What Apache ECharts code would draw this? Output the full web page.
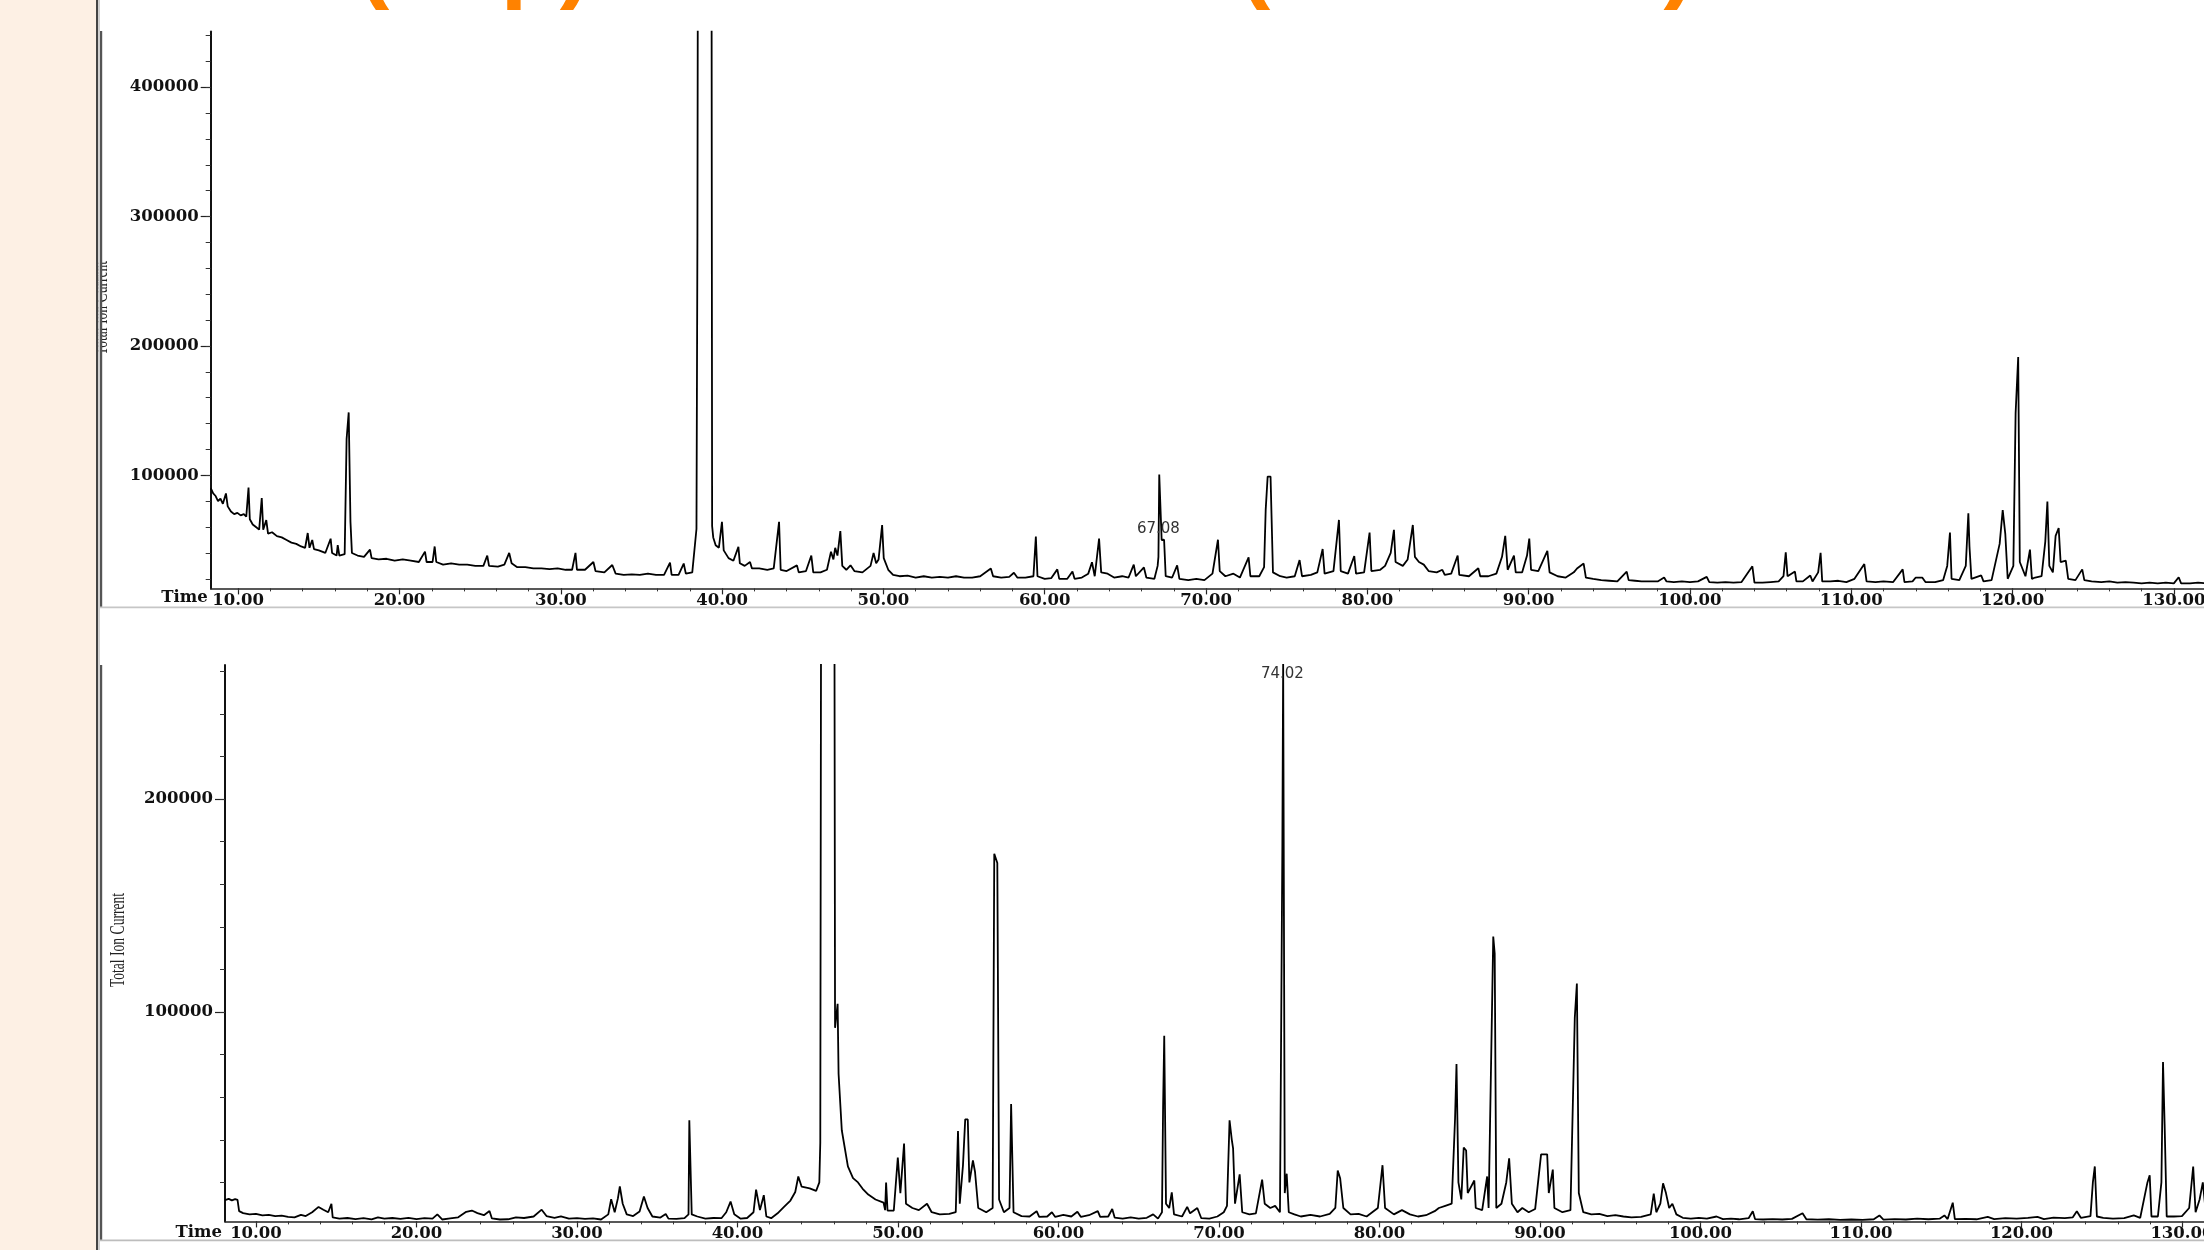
<!DOCTYPE html>
<html>
<head>
<meta charset="utf-8">
<script src="https://cdn.jsdelivr.net/npm/echarts@6/dist/echarts.min.js"></script>
<style>
html,body{margin:0;padding:0;background:#fff;}
#c{width:2204px;height:1250px;}
</style>
</head>
<body>
<div id="c"></div>
<script>
// ---- DATA (time in min, abundance in thousands of counts) ----
const topTrace = [[8.3,90],[8.45,86],[8.6,84],[8.75,80],[8.9,82],[9.05,78],[9.24,86],[9.35,76],[9.55,72],[9.75,70],[9.95,71],[10.15,69],[10.35,70],[10.5,68],[10.64,90.5],[10.72,66],[10.9,62],[11.1,60],[11.3,58],[11.46,82.4],[11.55,58],[11.74,65.4],[11.85,55],[12.1,56],[12.4,53],[12.7,52],[13.0,50],[13.3,48],[13.6,47],[13.9,45],[14.15,44],[14.31,55.4],[14.42,44],[14.59,50],[14.7,43],[15.0,42],[15.4,40],[15.73,51],[15.82,40],[16.1,38],[16.17,46],[16.27,38],[16.6,39],[16.72,128],[16.8,128],[16.85,148.6],[16.92,148.6],[16.96,64],[17.05,40],[17.4,38],[17.8,37],[18.17,42.6],[18.27,36],[18.7,35],[19.2,35.5],[19.7,34],[20.2,35],[20.7,34],[21.2,33],[21.58,41],[21.68,33],[22.05,33],[22.18,45],[22.28,33],[22.7,31],[23.2,32],[23.7,31],[24.2,31],[24.7,30],[25.2,30],[25.44,38],[25.55,30],[26.1,29.5],[26.5,31],[26.8,40],[26.95,32],[27.3,29],[27.8,29],[28.3,28],[28.8,28],[29.3,27.5],[29.8,28],[30.3,27],[30.7,27],[30.91,40],[31.0,27],[31.5,27],[32.02,33],[32.15,26],[32.7,25],[33.19,30.7],[33.4,24],[33.9,23],[34.4,23.5],[34.9,23],[35.4,24],[35.9,23],[36.4,23],[36.77,32.5],[36.87,23],[37.3,23],[37.62,31.8],[37.75,24],[38.15,25],[38.41,58.5],[38.47,286],[38.52,700],[39.33,700],[39.38,60.8],[39.45,52],[39.6,46],[39.8,44],[39.99,64],[40.1,42],[40.4,36],[40.7,34],[41.01,44.7],[41.1,32],[41.4,30],[41.73,33],[41.85,28],[42.3,28],[42.8,27],[43.2,28],[43.53,64],[43.63,27],[44.0,26],[44.64,30.4],[44.75,25],[45.2,26],[45.53,38],[45.65,25],[46.1,25],[46.5,27],[46.75,41],[46.9,35],[47.01,44],[47.15,38],[47.33,56.9],[47.45,30],[47.7,27],[47.96,30.4],[48.2,26],[48.7,25],[49.2,30],[49.39,40],[49.55,32],[49.7,35],[49.92,61.5],[50.02,36],[50.3,27],[50.6,23],[51.0,22],[51.5,22.5],[52.0,21],[52.5,22],[53.0,21],[53.5,21.5],[54.0,21],[54.5,22],[55.0,21],[55.5,21],[56.0,22],[56.66,27.9],[56.8,22],[57.3,21],[57.8,21.5],[58.09,24.7],[58.3,21],[58.8,21],[59.3,22],[59.45,52.6],[59.55,22],[60.0,20],[60.4,20.5],[60.78,27.3],[60.9,20],[61.4,20],[61.72,25.6],[61.85,20],[62.3,21],[62.7,24],[62.93,32.8],[63.1,22],[63.37,51.1],[63.5,25],[63.9,24],[64.3,21],[64.8,22],[65.2,21],[65.52,31],[65.65,22],[66.15,28.8],[66.3,21],[66.8,20],[67.0,30],[67.05,37],[67.1,100.6],[67.2,100.6],[67.25,50],[67.4,50.2],[67.5,22],[67.9,21],[68.21,30.4],[68.35,20],[68.9,19],[69.4,20],[69.9,19],[70.4,24],[70.74,50.2],[70.85,26],[71.2,22],[71.7,24],[72.1,21],[72.64,36.6],[72.75,22],[73.3,22],[73.6,29],[73.7,73.7],[73.82,99],[74.0,99],[74.15,25],[74.6,22],[75.0,21],[75.5,22],[75.8,34.5],[75.95,22],[76.5,23],[76.9,25],[77.23,43],[77.35,24],[77.9,26],[78.24,65.5],[78.35,26],[78.8,24],[79.19,37.6],[79.3,24],[79.8,25],[80.14,55.7],[80.25,26],[80.8,27],[81.1,30],[81.45,40],[81.65,57.8],[81.75,33],[82.2,30],[82.5,35],[82.82,61.6],[82.95,37],[83.2,33],[83.5,31],[83.8,26],[84.3,25],[84.65,27],[84.8,23],[85.2,24],[85.6,38],[85.7,23],[86.3,22],[86.88,28.2],[87.0,22],[87.5,22],[88.0,24],[88.35,37],[88.55,53.2],[88.7,27],[89.09,38],[89.2,25],[89.6,25],[89.9,38],[90.04,51.1],[90.15,27],[90.6,26],[91.16,41.6],[91.3,25],[91.8,22],[92.3,21],[92.8,25],[93.0,28],[93.41,31.8],[93.55,21],[94.0,20],[94.5,19],[95.0,18.5],[95.5,18],[96.08,25.6],[96.2,19],[96.6,18.5],[97.0,18],[97.5,18],[98.0,18],[98.4,21],[98.55,18],[99.0,17.5],[99.5,18],[100.0,17.5],[100.5,18],[101.04,21.5],[101.2,17.5],[101.7,17],[102.2,17.5],[102.7,17],[103.2,17.5],[103.87,29.7],[104.0,17],[104.5,17],[105.0,17.5],[105.5,18],[105.8,22],[105.94,40.4],[106.05,22],[106.51,25.6],[106.6,18],[107.0,18],[107.46,22.6],[107.6,18],[107.95,25],[108.1,40.1],[108.2,18],[108.7,18],[109.2,18.5],[109.7,17.5],[110.2,20],[110.81,31.4],[110.95,18],[111.5,17.5],[112.0,18],[112.6,17.5],[113.19,27.3],[113.3,17.5],[113.8,18],[114.0,21],[114.4,21],[114.6,17.5],[115.2,17.5],[115.7,19],[115.95,30],[116.12,55.7],[116.22,20],[116.7,19],[117.1,30],[117.26,70.6],[117.33,45],[117.45,20],[118.06,22.6],[118.2,18],[118.7,19],[119.2,47],[119.39,73.1],[119.55,54.8],[119.7,20],[120.05,30],[120.19,148],[120.35,191.4],[120.45,33],[120.8,22],[121.08,42.6],[121.2,20],[121.4,21],[121.8,22],[122.03,48.7],[122.16,79.8],[122.28,30],[122.5,25],[122.67,53.2],[122.86,59.3],[122.98,33],[123.3,34],[123.45,20],[123.9,19],[124.32,27.3],[124.45,19],[124.9,18],[125.5,17.5],[126.0,18],[126.5,17],[127.0,17.5],[127.5,17],[128.0,16.5],[128.5,17],[129.0,16.5],[129.5,17],[130.0,16.5],[130.3,21.2],[130.45,16.5],[131.0,16.5],[131.5,17],[132.0,16.5],[133.0,16.5]];

const botTrace = [[8.07,11.7],[8.3,12.3],[8.5,11.6],[8.7,12.2],[8.85,11.8],[8.95,6.5],[9.2,5.6],[9.6,5.0],[10.0,5.2],[10.4,4.5],[10.8,4.8],[11.2,4.2],[11.6,4.4],[12.0,3.8],[12.4,3.6],[12.8,4.8],[13.1,4.2],[13.5,6.0],[13.9,8.5],[14.2,7.2],[14.5,6.0],[14.7,9.9],[14.78,3.6],[15.2,3.0],[15.7,3.3],[16.2,2.8],[16.7,3.2],[17.2,2.7],[17.6,3.6],[18.0,3.0],[18.5,3.3],[19.0,2.9],[19.5,3.4],[20.0,2.8],[20.5,3.2],[21.0,3.0],[21.3,5.0],[21.6,2.6],[22.1,3.1],[22.6,3.6],[23.1,6.2],[23.45,6.8],[23.8,5.6],[24.2,4.6],[24.55,6.6],[24.7,3.1],[25.2,2.6],[25.7,2.7],[26.2,3.6],[26.7,3.3],[27.3,4.0],[27.8,7.2],[28.1,4.2],[28.6,3.4],[29.0,4.1],[29.5,3.0],[30.0,3.2],[30.5,2.9],[31.0,3.1],[31.5,2.6],[31.95,5.0],[32.13,12.1],[32.35,6.0],[32.55,12.5],[32.67,18.1],[32.85,10.0],[33.1,5.0],[33.5,4.2],[33.9,6.3],[34.17,13.4],[34.4,8.0],[34.7,4.0],[35.2,3.5],[35.53,5.2],[35.7,3.0],[36.2,2.9],[36.7,3.2],[36.95,5.0],[37.0,49.2],[37.07,49.2],[37.15,5.0],[37.5,4.0],[38.0,3.0],[38.5,3.3],[39.0,3.2],[39.3,6.0],[39.57,11.0],[39.8,5.0],[40.2,3.0],[40.6,3.3],[41.0,6.0],[41.16,16.6],[41.4,7.0],[41.64,14.0],[41.8,4.0],[42.1,3.2],[42.5,5.5],[42.9,8.5],[43.3,11.5],[43.6,15.5],[43.79,22.8],[44.0,18.0],[44.5,17.2],[44.9,16.0],[45.1,20.0],[45.16,38.8],[45.23,400],[46.02,400],[46.08,92.6],[46.24,103.9],[46.3,70.9],[46.5,44.5],[46.88,27.5],[47.2,22.0],[47.51,20.0],[47.8,17.0],[48.15,14.3],[48.6,12.0],[49.1,10.5],[49.2,7.0],[49.26,20.0],[49.35,6.8],[49.74,6.8],[49.99,31.7],[50.15,15.0],[50.38,38.3],[50.5,10.0],[50.9,8.0],[51.3,7.0],[51.81,10.0],[52.1,6.0],[52.6,5.0],[53.2,5.2],[53.6,6.0],[53.74,44.1],[53.85,10.0],[54.05,28.0],[54.19,49.6],[54.35,49.6],[54.45,20.0],[54.67,30.3],[54.8,25.0],[55.0,8.0],[55.5,6.0],[55.9,8.0],[56.0,174.4],[56.19,170.0],[56.3,12.0],[56.6,6.0],[56.95,8.0],[57.05,56.8],[57.2,6.0],[57.7,4.2],[58.2,4.0],[58.64,6.5],[58.8,3.8],[59.3,4.0],[59.59,6.0],[59.8,3.8],[60.3,4.8],[60.8,4.0],[61.18,6.2],[61.4,3.8],[61.9,4.6],[62.45,6.5],[62.6,3.8],[63.1,4.0],[63.35,7.5],[63.5,3.5],[64.0,3.0],[64.5,3.6],[65.0,3.0],[65.5,3.4],[65.9,5.0],[66.2,3.0],[66.45,6.0],[66.52,56.0],[66.59,88.9],[66.7,10.0],[66.9,8.0],[67.06,15.3],[67.2,5.0],[67.7,4.0],[68.02,8.5],[68.2,5.5],[68.65,8.0],[68.9,3.2],[69.4,3.0],[69.9,4.0],[70.3,6.0],[70.5,9.0],[70.66,49.2],[70.8,40.0],[70.88,36.0],[71.0,10.0],[71.29,23.8],[71.45,6.0],[71.9,5.0],[72.3,5.5],[72.69,21.3],[72.85,10.0],[73.2,8.0],[73.5,9.0],[73.8,6.0],[73.95,178.0],[74.0,265.0],[74.1,15.0],[74.22,24.1],[74.35,6.0],[74.7,5.0],[75.1,4.0],[75.7,4.8],[76.3,4.0],[76.9,5.2],[77.25,8.0],[77.4,25.6],[77.55,22.0],[77.75,8.0],[78.2,5.0],[78.7,5.2],[79.2,4.0],[79.9,8.0],[80.19,28.1],[80.35,8.0],[80.9,5.0],[81.4,7.0],[81.9,5.0],[82.4,4.0],[82.9,4.6],[83.44,6.5],[83.7,8.0],[84.1,9.0],[84.5,10.0],[84.71,50.0],[84.8,75.6],[84.92,20.0],[85.1,12.0],[85.25,36.4],[85.4,35.0],[85.5,15.0],[85.91,20.9],[86.0,8.0],[86.4,7.0],[86.71,22.8],[86.8,8.0],[87.09,135.5],[87.18,127.5],[87.28,8.0],[87.6,10.0],[87.9,20.0],[88.08,31.3],[88.25,10.0],[88.6,6.0],[88.9,8.0],[89.3,6.0],[89.7,7.5],[90.07,33.2],[90.45,33.2],[90.55,15.0],[90.8,26.0],[90.9,8.0],[91.4,6.0],[91.9,7.0],[92.17,97.3],[92.3,113.4],[92.42,15.0],[92.7,6.0],[93.2,5.0],[93.7,5.2],[94.2,4.2],[94.7,4.6],[95.2,4.0],[95.7,3.6],[96.3,3.8],[96.9,5.0],[97.09,14.7],[97.25,6.0],[97.5,10.0],[97.67,19.6],[97.85,15.0],[98.05,8.0],[98.25,10.0],[98.5,5.0],[98.9,3.4],[99.4,3.0],[99.9,3.4],[100.4,3.0],[101.0,4.0],[101.4,2.8],[101.9,3.0],[102.4,2.7],[103.0,3.2],[103.26,6.5],[103.4,2.8],[103.9,2.6],[104.5,2.8],[105.1,2.6],[105.7,2.9],[106.36,5.5],[106.6,2.7],[107.3,2.5],[108.0,2.7],[108.7,2.4],[109.4,2.6],[110.1,2.4],[110.8,2.7],[111.15,4.5],[111.4,2.5],[112.1,2.8],[112.8,2.6],[113.5,3.0],[114.2,2.7],[114.9,3.0],[115.2,4.5],[115.4,2.8],[115.72,10.5],[115.85,2.8],[116.5,2.9],[117.2,2.7],[117.9,3.8],[118.3,2.8],[119.0,3.2],[119.7,3.0],[120.4,3.4],[121.0,3.8],[121.4,2.8],[122.0,3.5],[122.7,3.2],[123.2,3.6],[123.45,6.5],[123.7,3.4],[124.3,4.2],[124.45,20.0],[124.57,27.5],[124.7,4.0],[125.1,3.4],[125.7,3.0],[126.4,3.2],[127.0,4.5],[127.4,3.4],[127.85,20.0],[127.99,23.4],[128.1,4.0],[128.5,4.0],[128.72,20.0],[128.82,76.6],[128.92,47.3],[129.05,4.0],[129.5,4.0],[130.0,4.2],[130.45,8.0],[130.7,27.5],[130.85,6.0],[131.1,12.0],[131.3,20.0],[131.5,5.0],[131.7,4.0],[132.0,4.5],[132.5,4.0]];

const xMajorTicks = [10,20,30,40,50,60,70,80,90,100,110,120,130];
const xMinorTicks = [10,12,14,16,18,20,22,24,26,28,30,32,34,36,38,40,42,44,46,48,50,52,54,56,58,60,62,64,66,68,70,72,74,76,78,80,82,84,86,88,90,92,94,96,98,100,102,104,106,108,110,112,114,116,118,120,122,124,126,128,130,132,134];
const yMajorTop = [100000,200000,300000,400000];
const yMinorTop = [20000,40000,60000,80000,100000,120000,140000,160000,180000,200000,220000,240000,260000,280000,300000,320000,340000,360000,380000,400000,420000,440000];
const yMajorBot = [100000,200000];
const yMinorBot = [20000,40000,60000,80000,100000,120000,140000,160000,180000,200000,220000,240000,260000];
const topPeakLabels = [{t:67.05, v:58500, text:'67.08'}];
const botPeakLabels = [{t:73.95, v:258800, text:'74.02'}];
const axisNameX = 'Time';
const axisNameY = 'Total Ion Current';
const titleParts = [{text:'(Top)', x:357}, {text:'( Bottom )', x:1238}];

// ---- CHART ----
const AXF = 'DejaVu Serif';
const chart = echarts.init(document.getElementById('c'), null, {renderer:'canvas', width:2204, height:1250});

function xMain(gi, min, max, namePad){
  return {type:'value', gridIndex:gi, min:min, max:max, position:'bottom',
    name:axisNameX, nameLocation:'start', nameGap:3,
    nameTextStyle:{fontFamily:AXF, fontWeight:'bold', fontSize:16.5, color:'#111', align:'right', verticalAlign:'top', padding:[namePad,0,0,0]},
    axisLine:{show:true, onZero:false, lineStyle:{color:'#222', width:1.5}},
    axisTick:{show:true, customValues:xMajorTicks, length:6, lineStyle:{color:'#222', width:1.2}},
    axisLabel:{show:true, customValues:xMajorTicks, formatter:function(v){return Number(v).toFixed(2);}, margin:4,
      fontFamily:AXF, fontWeight:'bold', fontSize:16.5, color:'#111'},
    minorTick:{show:false}, splitLine:{show:false}};
}
function xMinor(gi, min, max){
  return {type:'value', gridIndex:gi, min:min, max:max, position:'bottom',
    axisLine:{show:false, onZero:false}, axisLabel:{show:false}, splitLine:{show:false},
    axisTick:{show:true, customValues:xMinorTicks, length:3, lineStyle:{color:'#333', width:1}}};
}
function yMain(gi, min, max, major, margin){
  return {type:'value', gridIndex:gi, min:min, max:max, position:'left',
    axisLine:{show:true, onZero:false, lineStyle:{color:'#111', width:2}},
    axisTick:{show:true, customValues:major, length:10, lineStyle:{color:'#222', width:1.2}},
    axisLabel:{show:true, customValues:major, margin:margin, formatter:function(v){return String(Math.round(v));},
      fontFamily:AXF, fontWeight:'bold', fontSize:16.5, color:'#111'},
    splitLine:{show:false}};
}
function yMinor(gi, min, max, minor){
  return {type:'value', gridIndex:gi, min:min, max:max, position:'left',
    axisLine:{show:false, onZero:false}, axisLabel:{show:false}, splitLine:{show:false},
    axisTick:{show:true, customValues:minor, length:5, lineStyle:{color:'#333', width:1}}};
}
function peakMarks(list){
  return {symbol:'rect', symbolSize:1, itemStyle:{color:'rgba(0,0,0,0)'},
    label:{show:true, position:'inside', formatter:'{b}', fontFamily:'DejaVu Sans', fontSize:15, color:'#333'},
    data:list.map(function(p){return {name:p.text, coord:[p.t, p.v]};})};
}

const TOP = {xmin:8.295, xmax:135, ymin:12600, ymax:442900};
const BOT = {xmin:8.07, xmax:135, ymin:1700, ymax:263000};

const option = {
  animation:false,
  backgroundColor:'#ffffff',
  grid:[
    {left:210.7, top:31.6, width:2043.8, height:556.8, show:false, containLabel:false, outerBoundsMode:'none'},
    {left:225, top:665, width:2037.2, height:556.4, show:false, containLabel:false, outerBoundsMode:'none'}
  ],
  xAxis:[
    xMain(0, TOP.xmin, TOP.xmax, 1), xMinor(0, TOP.xmin, TOP.xmax),
    xMain(1, BOT.xmin, BOT.xmax, 3), xMinor(1, BOT.xmin, BOT.xmax)
  ],
  yAxis:[
    yMain(0, TOP.ymin, TOP.ymax, yMajorTop, 12), yMinor(0, TOP.ymin, TOP.ymax, yMinorTop),
    yMain(1, BOT.ymin, BOT.ymax, yMajorBot, 12), yMinor(1, BOT.ymin, BOT.ymax, yMinorBot)
  ],
  series:[
    {type:'line', xAxisIndex:0, yAxisIndex:0, symbol:'none', showSymbol:false, clip:true,
     lineStyle:{color:'#000', width:1.8}, silent:true,
     data:topTrace.map(function(p){return [p[0], p[1]*1000];}),
     markPoint:peakMarks(topPeakLabels)},
    {type:'line', xAxisIndex:2, yAxisIndex:2, symbol:'none', showSymbol:false, clip:true,
     lineStyle:{color:'#000', width:1.8}, silent:true,
     data:botTrace.map(function(p){return [p[0], p[1]*1000];}),
     markPoint:peakMarks(botPeakLabels)}
  ],
  graphic:{elements:[
    {type:'text', x:101.5, y:308, rotation:Math.PI/2, scaleX:0.68, z:50,
     style:{text:axisNameY, font:'20px "Liberation Serif"', fill:'#222', align:'center', verticalAlign:'middle'}},
    {type:'text', x:119, y:940, rotation:Math.PI/2, scaleX:0.68, z:50,
     style:{text:axisNameY, font:'20px "Liberation Serif"', fill:'#222', align:'center', verticalAlign:'middle'}},
    {type:'rect', shape:{x:0, y:0, width:96, height:1250}, style:{fill:'#FDF0E4'}, z:100},
    {type:'rect', shape:{x:96, y:0, width:2.2, height:1250}, style:{fill:'#444'}, z:100},
    {type:'rect', shape:{x:98.2, y:0, width:1.8, height:1250}, style:{fill:'#cfcfcf'}, z:100},
    {type:'rect', shape:{x:100, y:31, width:2.2, height:577}, style:{fill:'#555'}, z:100},
    {type:'rect', shape:{x:100, y:665, width:2.2, height:576}, style:{fill:'#555'}, z:100},
    {type:'rect', shape:{x:100, y:606.5, width:2104, height:1.8}, style:{fill:'#c6c6c6'}, z:100},
    {type:'rect', shape:{x:100, y:1239.5, width:2104, height:1.8}, style:{fill:'#bdbdbd'}, z:100},
    {type:'text', x:titleParts[0].x, y:-37, z:100,
     style:{text:titleParts[0].text, font:'bold 97px "Liberation Sans"', fill:'#FF8200', align:'left', verticalAlign:'middle'}},
    {type:'text', x:titleParts[1].x, y:-37, z:100,
     style:{text:titleParts[1].text, font:'bold 97px "Liberation Sans"', fill:'#FF8200', align:'left', verticalAlign:'middle'}}
  ]}
};
chart.setOption(option);
</script>
</body>
</html>
